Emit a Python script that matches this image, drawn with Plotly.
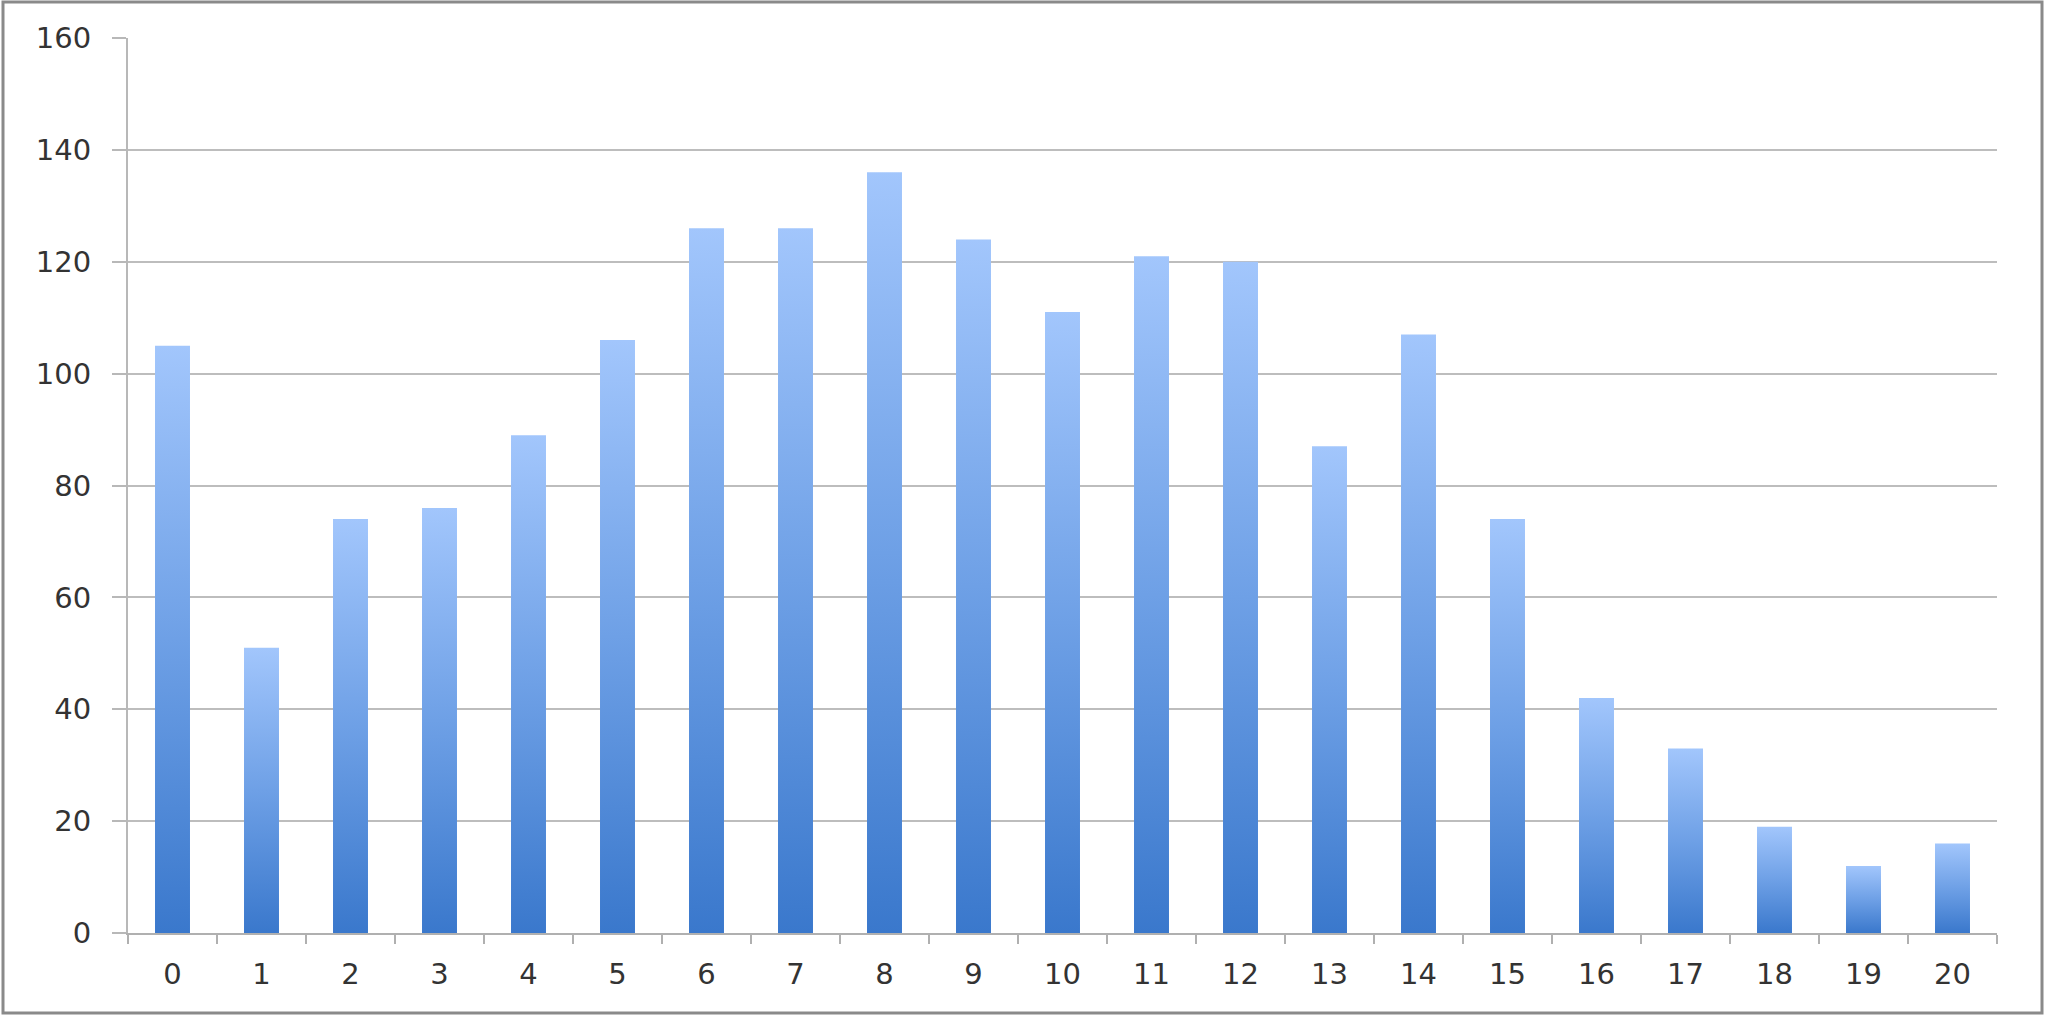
import plotly.graph_objects as go

categories = list(range(21))
values = [105, 51, 74, 76, 89, 106, 126, 126, 136, 124, 111, 121, 120, 87, 107, 74, 42, 33, 19, 12, 16]
y_ticks = [0, 20, 40, 60, 80, 100, 120, 140, 160]

W, H = 2048, 1017
L, R, T, B = 128, 51, 38, 84
pw, ph = W - L - R, H - T - B

bar_w = 0.393
grad = [[0, "#3a78cc"], [0.5, "#6ea0e6"], [1, "#a2c6fc"]]

fig = go.Figure()
for c, v in zip(categories, values):
    fig.add_trace(go.Scatter(
        x=[c - bar_w / 2, c + bar_w / 2, c + bar_w / 2, c - bar_w / 2, c - bar_w / 2],
        y=[0, 0, v, v, 0],
        mode="lines", line=dict(width=0), fill="toself",
        fillgradient=dict(type="vertical", colorscale=grad),
        hoverinfo="skip", showlegend=False,
    ))

font = dict(family="DejaVu Sans", size=29, color="#333333")
fig.update_layout(
    width=W, height=H,
    margin=dict(l=L, r=R, t=T, b=B),
    paper_bgcolor="white", plot_bgcolor="white",
    showlegend=False,
    font=font,
    xaxis=dict(
        range=[-0.5, 20.5], tickvals=categories, ticktext=[str(c) for c in categories],
        ticks="", showgrid=False, zeroline=False,
        showline=True, linecolor="#b0b0b0", linewidth=2,
        minor=dict(tick0=-0.5, dtick=1, ticks="outside", ticklen=9, tickcolor="#b0b0b0", tickwidth=2, showgrid=False),
        ticklabelstandoff=14, tickfont=font, fixedrange=True,
    ),
    yaxis=dict(
        range=[0, 160], tickvals=y_ticks, ticks="outside", ticklen=14, tickcolor="#b8b8b8", tickwidth=2,
        showgrid=True, gridcolor="#bdbdbd", gridwidth=2, zeroline=False,
        showline=True, linecolor="#b8b8b8", linewidth=2,
        ticklabelstandoff=15, tickfont=font, fixedrange=True,
    ),
    shapes=[dict(
        type="rect", xref="paper", yref="paper",
        x0=(3 - L) / pw, x1=(2042 - L) / pw,
        y0=(H - B - 1013) / ph, y1=(H - B - 2) / ph,
        line=dict(color="#8a8a8a", width=3), fillcolor="rgba(0,0,0,0)", layer="below",
    )],
)

fig.write_html("out.html", config={"displayModeBar": False},
               post_script="document.body.style.margin='0';document.body.style.overflow='hidden';")
